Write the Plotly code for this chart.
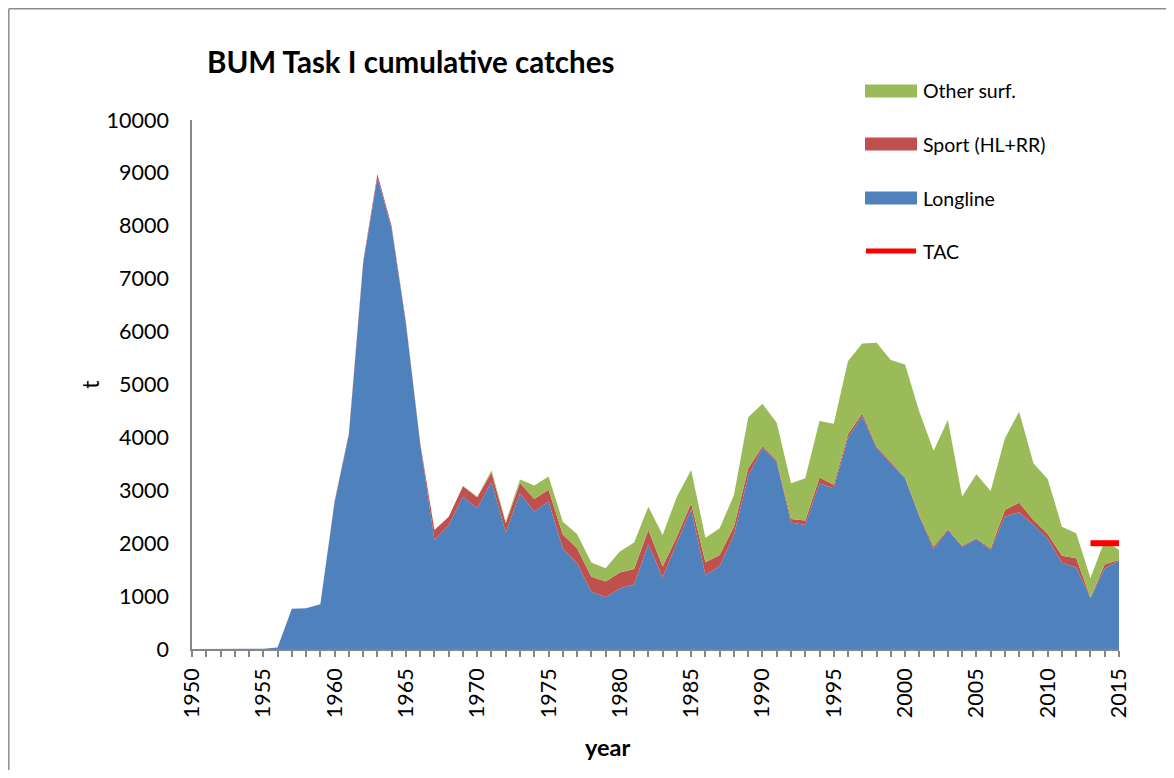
import plotly.graph_objects as go

years = list(range(1950, 2016))

longline = [0, 0, 0, 0, 0, 5, 30, 760, 770, 845,
            2780, 4050, 7280, 8920, 7950, 6150, 3880, 2060, 2340, 2880,
            2660, 3160, 2200, 2940, 2600, 2790, 1900, 1620, 1080, 980,
            1150, 1220, 1980, 1350, 2010, 2640, 1400, 1570, 2155, 3270,
            3800, 3530, 2390, 2345, 3130, 3040, 4000, 4400, 3795, 3510,
            3225, 2500, 1885, 2250, 1935, 2080, 1870, 2500, 2585, 2345,
            2080, 1630, 1540, 960, 1525, 1665]

sport = [0, 0, 0, 0, 0, 0, 0, 0, 0, 0,
         20, 30, 40, 60, 40, 30, 20, 190, 160, 195,
         210, 170, 175, 200, 235, 220, 265, 285, 285, 296,
         295, 290, 270, 208, 113, 114, 240, 208, 157, 140,
         35, 35, 69, 82, 113, 63, 63, 51, 31, 19,
         19, 33, 49, 18, 19, 13, 32, 128, 182, 95,
         95, 133, 177, 12, 76, 19]

other = [0, 0, 0, 0, 0, 0, 0, 0, 0, 0,
         0, 0, 0, 0, 0, 0, 0, 0, 0, 10,
         10, 50, 35, 63, 258, 252, 240, 271, 272, 252,
         397, 504, 440, 599, 757, 630, 465, 504, 599, 970,
         800, 710, 675, 800, 1065, 1153, 1380, 1324, 1965, 1934,
         2136, 1953, 1815, 2061, 927, 1210, 1084, 1354, 1720, 1071,
         1040, 548, 473, 366, 459, 189]

tac_years = [2013, 2014, 2015]
tac = [2000, 2000, 2000]

series_names = ["Longline", "Sport (HL+RR)", "Other surf.", "TAC"]
colors = {"Longline": "#4F81BD", "Sport (HL+RR)": "#C0504D",
          "Other surf.": "#9BBB59", "TAC": "#FF0000"}

FONT = "Lato"

fig = go.Figure()
for name, vals in zip(series_names[:3], [longline, sport, other]):
    fig.add_trace(go.Scatter(
        x=years, y=vals, name=name, stackgroup="catch", mode="lines",
        line=dict(color=colors[name], width=0), fillcolor=colors[name],
        showlegend=False, hoverinfo="x+y+name"))
fig.add_trace(go.Scatter(
    x=tac_years, y=tac, name="TAC", mode="lines",
    line=dict(color=colors["TAC"], width=6), showlegend=False))

# the page body adds an 8px margin; reference pixel coords are shifted by it
OX, OY = 8, 8
W, H = 1174 - 2 * OX, 778 - 2 * OY   # keep the page inside the window (no scrollbars)
# plot area in window pixels: x 192..1119, y 120..649
L = 192 - OX
T = 120 - OY
R = W - (1119 - OX)
B = H - (649 - OY)
pw, ph = W - L - R, H - T - B


def px(x):
    return (x - OX - L) / pw


def py(y):
    return (H - B - (y - OY)) / ph


shapes = []
annotations = []
# outer chart border: only left and top edges are visible in the window
border = dict(color="#8C8C8C", width=1.5)
shapes.append(dict(type="line", xref="paper", yref="paper",
                   x0=px(8.8), x1=px(8.8), y0=py(778), y1=py(8.8), line=border))
shapes.append(dict(type="line", xref="paper", yref="paper",
                   x0=px(8.8), x1=px(1174), y0=py(8.8), y1=py(8.8), line=border))

# manual legend
legend_order = ["Other surf.", "Sport (HL+RR)", "Longline", "TAC"]
legend_y = [91, 144, 198, 251]
for name, ly in zip(legend_order, legend_y):
    if name == "TAC":
        shapes.append(dict(type="line", xref="paper", yref="paper",
                           x0=px(866), x1=px(916), y0=py(ly), y1=py(ly),
                           line=dict(color=colors[name], width=5)))
    else:
        shapes.append(dict(type="rect", xref="paper", yref="paper",
                           x0=px(865), x1=px(917), y0=py(ly + 6.5), y1=py(ly - 6.5),
                           line=dict(width=0), fillcolor=colors[name]))
    annotations.append(dict(text=name, xref="paper", yref="paper",
                            x=px(921), y=py(ly), xanchor="left", yanchor="middle",
                            showarrow=False, font=dict(family=FONT, size=19.5, color="#000")))

annotations.append(dict(text="<b>year</b>", xref="paper", yref="paper",
                        x=px(607), y=py(747), xanchor="center", yanchor="middle",
                        showarrow=False, font=dict(family=FONT, size=23.5, color="#000")))

fig.update_layout(
    width=W, height=H,
    margin=dict(l=L, r=R, t=T, b=B, pad=0),
    paper_bgcolor="white", plot_bgcolor="white",
    font=dict(family=FONT, color="#000"),
    title=dict(text="<b>BUM Task I cumulative catches</b>",
               xref="container", yref="container",
               x=(207 - OX) / W, y=1 - (63 - OY) / H, xanchor="left", yanchor="middle",
               font=dict(family=FONT, size=29.5, color="#000")),
    showlegend=False,
    shapes=shapes, annotations=annotations,
    xaxis=dict(range=[1950, 2015], tick0=1950, dtick=5, tickangle=-90,
               showgrid=False, zeroline=False,
               showline=True, linecolor="#868686", linewidth=1.5,
               ticks="outside", ticklen=6, tickcolor="#868686", tickwidth=1.5,
               minor=dict(dtick=1, ticks="outside", ticklen=6,
                          tickcolor="#868686", tickwidth=1.5, showgrid=False),
               ticklabelstandoff=3,
               tickfont=dict(family=FONT, size=21.5, color="#000")),
    yaxis=dict(range=[0, 10000], tick0=0, dtick=1000, tickformat="d",
               showgrid=False, zeroline=False,
               showline=True, linecolor="#868686", linewidth=1.5,
               ticks="", ticklabelstandoff=17,
               tickfont=dict(family=FONT, size=21.5, color="#000"),
               title=dict(text="t", standoff=1,
                          font=dict(family=FONT, size=23, color="#000"))),
)

fig.write_html("out.html")
